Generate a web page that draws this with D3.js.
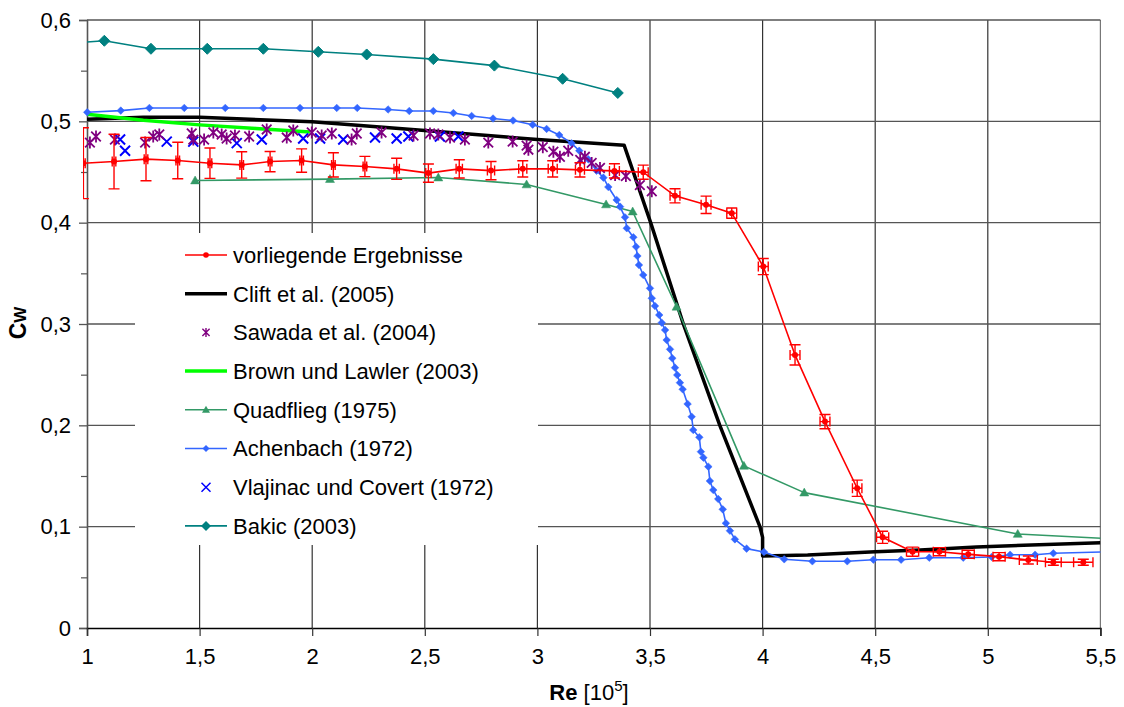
<!DOCTYPE html>
<html><head><meta charset="utf-8">
<script src="https://cdn.jsdelivr.net/npm/d3@7/dist/d3.min.js"></script>
<style>body{margin:0;background:#fff} text{font-family:"Liberation Sans",Arial,sans-serif;fill:#000}</style>
</head><body>
<svg id="c" width="1124" height="707"></svg>
<script>
// ---------- data ----------
const xTicks = [1, 1.5, 2, 2.5, 3, 3.5, 4, 4.5, 5, 5.5];
const xTickLabels = ["1", "1,5", "2", "2,5", "3", "3,5", "4", "4,5", "5", "5,5"];
const yTicks = [0, 0.1, 0.2, 0.3, 0.4, 0.5, 0.6];
const yTickLabels = ["0", "0,1", "0,2", "0,3", "0,4", "0,5", "0,6"];
const yMinorTicks = [0.05, 0.15, 0.25, 0.35, 0.45, 0.55];

const seriesNames = ["vorliegende Ergebnisse", "Clift et al. (2005)", "Sawada et al. (2004)",
  "Brown und Lawler (2003)", "Quadflieg (1975)", "Achenbach (1972)",
  "Vlajinac und Covert (1972)", "Bakic (2003)"];

// vorliegende Ergebnisse (with error bars)
const redX = [0.984, 1.12, 1.262, 1.403, 1.546, 1.687, 1.813, 1.953, 2.094, 2.234, 2.375, 2.516, 2.653, 2.794, 2.935, 3.068, 3.189, 3.342, 3.47, 3.611, 3.749, 3.863, 4.003, 4.144, 4.277, 4.42, 4.533, 4.666, 4.785, 4.913, 5.05, 5.18, 5.291, 5.424];
const redY = [0.4587, 0.4603, 0.4627, 0.4613, 0.4587, 0.457, 0.4603, 0.4613, 0.457, 0.4554, 0.4531, 0.4489, 0.4531, 0.4514, 0.4531, 0.4531, 0.4521, 0.4511, 0.4498, 0.4265, 0.4176, 0.4094, 0.3567, 0.2695, 0.2037, 0.1379, 0.0895, 0.0753, 0.0753, 0.0727, 0.0704, 0.0671, 0.0649, 0.0649];
const redYerr = [0.035, 0.027, 0.0214, 0.018, 0.015, 0.013, 0.010, 0.0115, 0.012, 0.010, 0.0104, 0.009, 0.009, 0.009, 0.008, 0.008, 0.007, 0.007, 0.007, 0.007, 0.0086, 0.005, 0.008, 0.010, 0.007, 0.008, 0.006, 0.0045, 0.004, 0.004, 0.004, 0.004, 0.003, 0.003];
const redXerr = [0.008, 0.008, 0.008, 0.008, 0.008, 0.008, 0.008, 0.008, 0.008, 0.008, 0.012, 0.012, 0.014, 0.016, 0.018, 0.02, 0.02, 0.022, 0.022, 0.022, 0.022, 0.022, 0.022, 0.022, 0.022, 0.021, 0.027, 0.027, 0.027, 0.027, 0.027, 0.04, 0.035, 0.043];

// Clift et al. (2005)
const cliftX = [1, 1.25, 1.5, 2, 2.5, 3, 3.385, 3.503, 3.648, 3.81, 3.988, 4.0, 4.0, 4.2, 4.5, 4.7, 4.95, 5.5];
const cliftY = [0.502, 0.504, 0.504, 0.4995, 0.491, 0.482, 0.4765, 0.400, 0.300, 0.200, 0.100, 0.0895, 0.071, 0.072, 0.0753, 0.077, 0.080, 0.0842];

// Sawada et al. (2004)
const sawadaX = [1.013, 1.04, 1.124, 1.258, 1.294, 1.321, 1.465, 1.472, 1.52, 1.561, 1.598, 1.62, 1.657, 1.72, 1.798, 1.887, 1.916, 1.998, 2.042, 2.087, 2.175, 2.198, 2.308, 2.45, 2.523, 2.56, 2.612, 2.678, 2.782, 2.89, 2.952, 2.96, 3.024, 3.071, 3.1, 3.137, 3.19, 3.211, 3.241, 3.278, 3.345, 3.393, 3.455, 3.508];
const sawadaY = [0.479, 0.485, 0.482, 0.479, 0.485, 0.487, 0.488, 0.482, 0.482, 0.489, 0.487, 0.483, 0.486, 0.485, 0.492, 0.484, 0.491, 0.489, 0.486, 0.488, 0.482, 0.488, 0.489, 0.486, 0.488, 0.487, 0.484, 0.482, 0.479, 0.480, 0.476, 0.472, 0.4745, 0.470, 0.465, 0.471, 0.462, 0.465, 0.459, 0.454, 0.447, 0.446, 0.437, 0.431];

// Brown und Lawler (2003)
const brownX = [1.0, 1.25, 1.5, 1.75, 1.99];
const brownY = [0.507, 0.501, 0.4965, 0.493, 0.4895];

// Quadflieg (1975)
const quadX = [1.48, 2.079, 2.56, 2.952, 3.305, 3.423, 3.618, 3.917, 4.185, 5.133, 5.6];
const quadY = [0.4416, 0.443, 0.4445, 0.4377, 0.418, 0.411, 0.317, 0.160, 0.1336, 0.0928, 0.0875];

// Achenbach (1972)
const achX = [1.001, 1.150, 1.277, 1.432, 1.614, 1.783, 1.946, 2.109, 2.200, 2.337, 2.431, 2.538, 2.627, 2.708, 2.803, 2.892, 2.979, 3.041, 3.097, 3.152, 3.186, 3.226, 3.263, 3.293, 3.315, 3.352, 3.367, 3.389, 3.397, 3.426, 3.438, 3.444, 3.451, 3.470, 3.500, 3.508, 3.522, 3.541, 3.552, 3.567, 3.574, 3.589, 3.599, 3.611, 3.621, 3.633, 3.645, 3.667, 3.685, 3.692, 3.719, 3.726, 3.737, 3.759, 3.766, 3.781, 3.803, 3.823, 3.837, 3.855, 3.877, 3.929, 4.006, 4.096, 4.221, 4.376, 4.492, 4.615, 4.740, 4.891, 5.017, 5.099, 5.210, 5.291, 5.6];
const achY = [0.5089, 0.5106, 0.5132, 0.5132, 0.5132, 0.5132, 0.5132, 0.5132, 0.5132, 0.5117, 0.5102, 0.5102, 0.5082, 0.5053, 0.5028, 0.5008, 0.4967, 0.4925, 0.4865, 0.4783, 0.4710, 0.4625, 0.4513, 0.4444, 0.4352, 0.4224, 0.4158, 0.4053, 0.3945, 0.3856, 0.3763, 0.3671, 0.3582, 0.3484, 0.3352, 0.3254, 0.3178, 0.3089, 0.3013, 0.2941, 0.2842, 0.2750, 0.2662, 0.2569, 0.2497, 0.2421, 0.2356, 0.2211, 0.2085, 0.1954, 0.1882, 0.1740, 0.1681, 0.1592, 0.1451, 0.1362, 0.1273, 0.1171, 0.1033, 0.0960, 0.0875, 0.0783, 0.0750, 0.0678, 0.0658, 0.0658, 0.0674, 0.0674, 0.0694, 0.0694, 0.0701, 0.0723, 0.0723, 0.0737, 0.0757];

// Vlajinac und Covert (1972)
const vlajX = [1.147, 1.169, 1.354, 1.472, 1.665, 1.776, 1.96, 2.035, 2.138, 2.279, 2.375, 2.427, 2.567, 2.649];
const vlajY = [0.482, 0.471, 0.480, 0.480, 0.4785, 0.482, 0.483, 0.483, 0.482, 0.484, 0.483, 0.485, 0.485, 0.485];

// Bakic (2003)
const bakicX = [0.95, 1.077, 1.284, 1.534, 1.783, 2.027, 2.242, 2.538, 2.809, 3.112, 3.357];
const bakicY = [0.5775, 0.5795, 0.5716, 0.5716, 0.5716, 0.5686, 0.566, 0.5614, 0.555, 0.542, 0.528];

const colors = {red:"#ff0000", clift:"#000000", sawada:"#800080", brown:"#00ff00", quad:"#339966", ach:"#3366ff", vlaj:"#0000ff", bakic:"#008080"};

// ---------- layout ----------
const L = 87, R = 1100.4, T = 20, B = 628;
const x = d3.scaleLinear().domain([1, 5.5]).range([L, R]);
const y = d3.scaleLinear().domain([0, 0.6]).range([B, T]);
const svg = d3.select("#c");
const defs = svg.append("defs");
defs.append("clipPath").attr("id","plotClip").append("rect").attr("x",L).attr("y",T).attr("width",R-L).attr("height",B-T);
defs.append("clipPath").attr("id","markClip").append("rect").attr("x",L-7).attr("y",T-7).attr("width",R-L+14).attr("height",B-T+14);
defs.append("clipPath").attr("id","redClip").append("rect").attr("x",83).attr("y",T).attr("width",R-83).attr("height",B-T);

// gridlines
const grid = svg.append("g");
grid.selectAll("line.v").data(xTicks.slice(1)).join("line")
  .attr("x1", d=>x(d)).attr("x2", d=>x(d)).attr("y1", T).attr("y2", B)
  .attr("stroke", d=> d===5.5 ? "#777" : "#333").attr("stroke-width", 1.2);
grid.selectAll("line.h").data(yTicks.slice(1)).join("line")
  .attr("x1", L).attr("x2", R).attr("y1", d=>y(d)).attr("y2", d=>y(d))
  .attr("stroke", "#555").attr("stroke-width", 1.3);

// axes
const yAxis = svg.append("g").attr("transform",`translate(${L},0)`)
  .call(d3.axisLeft(y).tickValues(yTicks).tickSize(8).tickFormat((d,i)=>yTickLabels[i]));
yAxis.select(".domain").attr("stroke","#555").attr("stroke-width",1.6);
yAxis.selectAll(".tick line").attr("stroke","#555").attr("stroke-width",1.3);
yAxis.selectAll(".tick text").attr("font-size",22).attr("x",-16).attr("font-family","Liberation Sans, Arial, sans-serif");
svg.append("g").attr("transform",`translate(${L},0)`)
  .call(d3.axisLeft(y).tickValues(yMinorTicks).tickSize(6).tickFormat(""))
  .call(g=>{g.select(".domain").remove(); g.selectAll(".tick line").attr("stroke","#555").attr("stroke-width",1.2);});

const xAxis = svg.append("g").attr("transform",`translate(0,${B})`)
  .call(d3.axisBottom(x).tickValues(xTicks).tickSize(8).tickFormat((d,i)=>xTickLabels[i]));
xAxis.select(".domain").attr("stroke","#000").attr("stroke-width",1.5);
xAxis.selectAll(".tick line").attr("stroke","#333").attr("stroke-width",1.2);
xAxis.selectAll(".tick text").attr("font-size",22).attr("y",20).attr("font-family","Liberation Sans, Arial, sans-serif");

// axis titles
const xt = svg.append("text").attr("x",589).attr("y",700).attr("text-anchor","middle").attr("font-size",22);
xt.append("tspan").attr("font-weight","bold").text("Re");
xt.append("tspan").text(" [10");
xt.append("tspan").attr("font-size",15).attr("dy",-9).text("5");
xt.append("tspan").attr("dy",9).text("]");

const yt = svg.append("text").attr("transform","translate(26,323) rotate(-90)").attr("text-anchor","middle").attr("font-weight","bold");
yt.append("tspan").attr("font-size",23).text("C");
yt.append("tspan").attr("font-size",17).text("W");

// ---------- marker helpers ----------
function diamond(s){return `M0,${-s}L${s},0L0,${s}L${-s},0Z`;}
function triangle(s){return `M0,${-s}L${s},${s*0.75}L${-s},${s*0.75}Z`;}
function star(s){return `M${-s},${-s}L${s},${s}M${-s},${s}L${s},${-s}M0,${-s*1.25}L0,${s*1.25}`;}
function cross(s){return `M${-s},${-s}L${s},${s}M${-s},${s}L${s},${-s}`;}

const zip = (xs, ys) => xs.map((v,i)=>({x:v, y:ys[i], i}));
const line = d3.line().x(d=>x(d.x)).y(d=>y(d.y));

const plot = svg.append("g");
function drawLine(data, color, width){
  plot.append("path").datum(data).attr("d", line).attr("fill","none")
    .attr("stroke", color).attr("stroke-width", width).attr("stroke-linejoin","round")
    .attr("clip-path","url(#plotClip)");
}
function drawMarkers(data, pathStr, color, filled, sw){
  plot.append("g").attr("clip-path","url(#markClip)").selectAll("path").data(data.filter(d=>d.x>=0.999 && d.x<=5.5)).join("path")
    .attr("transform", d=>`translate(${x(d.x)},${y(d.y)})`).attr("d", pathStr)
    .attr("fill", filled ? color : "none").attr("stroke", color).attr("stroke-width", sw);
}

// Bakic
const bakic = zip(bakicX, bakicY);
drawLine(bakic, colors.bakic, 1.6);
drawMarkers(bakic, diamond(5.5), colors.bakic, true, 1);
// Clift
drawLine(zip(cliftX, cliftY), colors.clift, 3.5);
// Brown
drawLine(zip(brownX, brownY), colors.brown, 3.5);
// Quadflieg
const quad = zip(quadX, quadY);
drawLine(quad, colors.quad, 1.6);
drawMarkers(quad, triangle(4.5), colors.quad, true, 0.5);
// Achenbach
const ach = zip(achX, achY);
drawLine(ach, colors.ach, 1.6);
drawMarkers(ach, diamond(3.8), colors.ach, true, 0.5);
// Vlajinac
drawMarkers(zip(vlajX, vlajY), cross(5), colors.vlaj, false, 2);
// Sawada
drawMarkers(zip(sawadaX, sawadaY), star(4.8), colors.sawada, false, 1.8);

// red series with error bars
const red = redX.map((v,i)=>({x:v, y:redY[i], ex:redXerr[i], ey:redYerr[i]}));
const rg = plot.append("g").attr("clip-path","url(#redClip)");
rg.append("path").datum(red).attr("d", line).attr("fill","none").attr("stroke",colors.red).attr("stroke-width",1.6);
const eb = rg.selectAll("g.eb").data(red).join("g").attr("stroke",colors.red).attr("stroke-width",1.4).attr("fill","none");
eb.append("path").attr("d", d=>{
  const cx=x(d.x), cy=y(d.y), y1=y(d.y+d.ey), y2=y(d.y-d.ey), x1=x(d.x-d.ex), x2=x(d.x+d.ex);
  return `M${cx},${y1}L${cx},${y2}M${cx-5.5},${y1}L${cx+5.5},${y1}M${cx-5.5},${y2}L${cx+5.5},${y2}` +
         `M${x1},${cy}L${x2},${cy}M${x1},${cy-5}L${x1},${cy+5}M${x2},${cy-5}L${x2},${cy+5}`;
});
rg.selectAll("circle").data(red).join("circle").attr("cx",d=>x(d.x)).attr("cy",d=>y(d.y)).attr("r",3).attr("fill",colors.red);

// ---------- legend ----------
const lg = svg.append("g");
lg.append("rect").attr("x",135).attr("y",233).attr("width",403).attr("height",312).attr("fill","#fff");
const legendItems = [
  {c:colors.red, w:1.6, line:true, m:"circle"},
  {c:colors.clift, w:3.5, line:true, m:null},
  {c:colors.sawada, w:0, line:false, m:"star"},
  {c:colors.brown, w:3.5, line:true, m:null},
  {c:colors.quad, w:1.6, line:true, m:"tri"},
  {c:colors.ach, w:1.6, line:true, m:"dia"},
  {c:colors.vlaj, w:0, line:false, m:"cross"},
  {c:colors.bakic, w:1.6, line:true, m:"bdia"}
];
legendItems.forEach((it, i)=>{
  const cy = 255 + i*38.7;
  const g = lg.append("g").attr("transform",`translate(0,${cy})`);
  if(it.line) g.append("line").attr("x1",185).attr("x2",227).attr("y1",0).attr("y2",0).attr("stroke",it.c).attr("stroke-width",it.w);
  const mg = g.append("g").attr("transform","translate(206,0)");
  if(it.m==="circle") mg.append("circle").attr("r",2.8).attr("fill",it.c);
  if(it.m==="star") mg.append("path").attr("d",star(3.6)).attr("stroke",it.c).attr("stroke-width",1.4).attr("fill","none");
  if(it.m==="tri") mg.append("path").attr("d",triangle(4)).attr("fill",it.c);
  if(it.m==="dia") mg.append("path").attr("d",diamond(3.5)).attr("fill",it.c);
  if(it.m==="cross") mg.append("path").attr("d",cross(4.5)).attr("stroke",it.c).attr("stroke-width",1.5).attr("fill","none");
  if(it.m==="bdia") mg.append("path").attr("d",diamond(5)).attr("fill",it.c);
  g.append("text").attr("x",233).attr("y",0).attr("dy","0.36em").attr("font-size",22).text(seriesNames[i]);
});
</script>
</body></html>
